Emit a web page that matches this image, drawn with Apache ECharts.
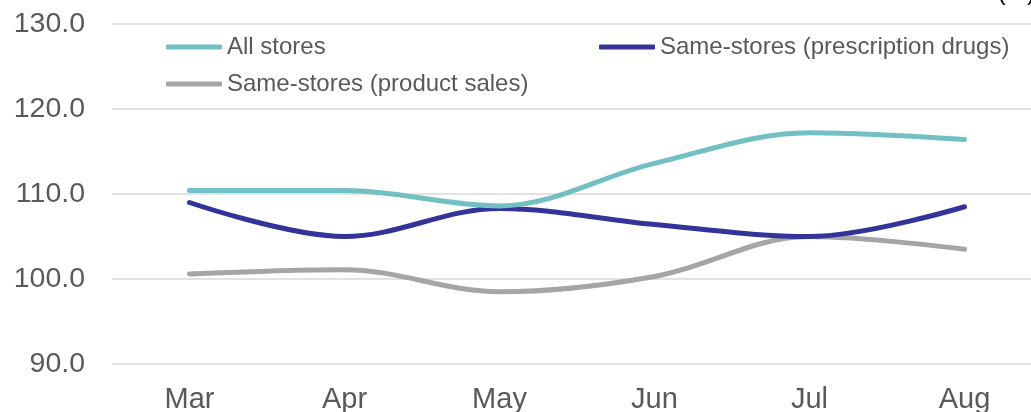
<!DOCTYPE html>
<html>
<head>
<meta charset="utf-8">
<script src="https://cdn.jsdelivr.net/npm/echarts@6/dist/echarts.min.js"></script>
<style>
  html, body { margin: 0; padding: 0; background: #ffffff; }
  #chart { width: 1031px; height: 412px; }
</style>
</head>
<body>
<div id="chart"></div>
<script>
// Monthly index by store group
const months = ['Mar', 'Apr', 'May', 'Jun', 'Jul', 'Aug'];
const allStores = [110.4, 110.4, 108.6, 113.6, 117.2, 116.4];
const sameStoresRx = [109.0, 105.0, 108.3, 106.4, 105.0, 108.5];
const sameStoresProduct = [100.6, 101.1, 98.5, 100.3, 105.0, 103.5];
const yTicks = { min: 90, max: 130, interval: 10 };

const names = ['All stores', 'Same-stores (prescription drugs)', 'Same-stores (product sales)'];
const colors = ['#72c0c4', '#333399', '#a5a5a5'];
const values = [allStores, sameStoresRx, sameStoresProduct];

const textColor = '#595959';
const font = 'Liberation Sans, Arial, sans-serif';

const legendBase = {
  icon: 'roundRect',
  itemWidth: 56,
  itemHeight: 5,
  selectedMode: false,
  textStyle: { color: textColor, fontSize: 24, fontFamily: font }
};

const chart = echarts.init(document.getElementById('chart'), null, { renderer: 'canvas' });
chart.setOption({
  animation: false,
  backgroundColor: '#ffffff',
  grid: { left: 112, right: -11, top: 24, bottom: 48, containLabel: false, outerBoundsMode: 'none' },
  legend: [
    Object.assign({ data: [names[0]], left: 161, top: 30 }, legendBase),
    Object.assign({ data: [names[1]], left: 594, top: 30 }, legendBase),
    Object.assign({ data: [names[2]], left: 161, top: 67 }, legendBase)
  ],
  graphic: [{
    type: 'text',
    right: -4,
    top: -19,
    style: { text: '(%)', fill: '#000000', font: '24px ' + font }
  }],
  xAxis: {
    type: 'category',
    data: months,
    boundaryGap: true,
    axisLine: { show: false },
    axisTick: { show: false },
    axisLabel: { color: textColor, fontSize: 29, fontFamily: font, margin: 21 }
  },
  yAxis: {
    type: 'value',
    min: yTicks.min,
    max: yTicks.max,
    interval: yTicks.interval,
    axisLine: { show: false },
    axisTick: { show: false },
    splitLine: { lineStyle: { color: '#d9d9d9', width: 1.5 } },
    axisLabel: {
      color: textColor, fontSize: 28.5, fontFamily: font, margin: 27,
      formatter: v => v.toFixed(1)
    }
  },
  series: names.map((n, i) => ({
    name: n,
    type: 'line',
    data: values[i],
    smooth: 0.35,
    showSymbol: false,
    symbol: 'none',
    color: colors[i],
    lineStyle: { color: colors[i], width: 5, cap: 'round', join: 'round' },
    z: 3 - i
  }))
});
</script>
</body>
</html>
